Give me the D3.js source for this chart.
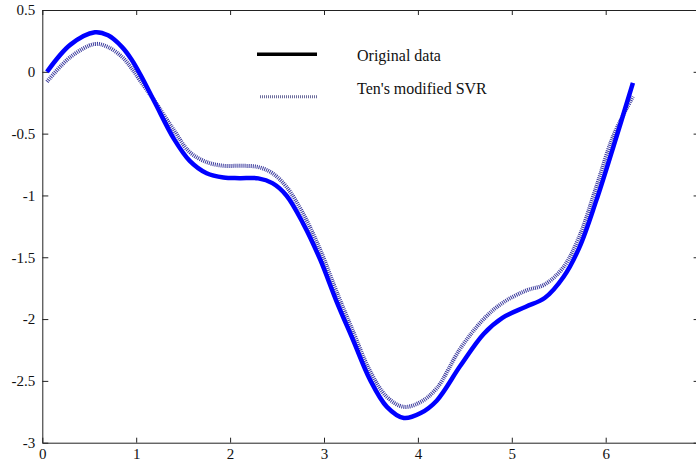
<!DOCTYPE html>
<html>
<head>
<meta charset="utf-8">
<script src="https://cdn.jsdelivr.net/npm/d3@7"></script>
<style>
  html, body { margin: 0; padding: 0; background: #fff; }
  svg text { font-family: "Liberation Serif", "Times New Roman", "DejaVu Serif", serif; }
</style>
</head>
<body>
<div id="chart"></div>
<script>
// sample positions along x
const xs = [0.05, 0.3, 0.56, 0.7, 0.85, 0.95, 1.05, 1.2, 1.4, 1.57, 1.75, 1.93, 2.1, 2.3, 2.45, 2.6, 2.78, 2.96,
	3.13, 3.31, 3.49, 3.67, 3.85, 4.03, 4.2, 4.45, 4.7, 4.9, 5.15, 5.35, 5.55, 5.72, 5.9, 6.08, 6.29];

// original data
const original = [0.0, 0.22, 0.32, 0.295, 0.2, 0.1, -0.03, -0.25, -0.54, -0.72, -0.82, -0.855, -0.86, -0.862,
	-0.9, -1.0, -1.23, -1.52, -1.85, -2.17, -2.49, -2.71, -2.8, -2.76, -2.66, -2.38, -2.12, -1.99, -1.9, -1.83,
	-1.66, -1.42, -1.04, -0.61, -0.09];

// Ten's modified SVR
const svr = [-0.08, 0.12, 0.225, 0.2, 0.12, 0.03, -0.08, -0.24, -0.47, -0.65, -0.73, -0.76, -0.76, -0.77,
	-0.82, -0.93, -1.15, -1.44, -1.77, -2.1, -2.42, -2.63, -2.71, -2.67, -2.56, -2.24, -2.0, -1.87, -1.77, -1.72,
	-1.58, -1.33, -0.93, -0.52, -0.2];

const xTicks = [0, 1, 2, 3, 4, 5, 6, 7];
const yTicks = [0.5, 0, -0.5, -1, -1.5, -2, -2.5, -3];
const yTickLabels = ["0.5", "0", "-0.5", "-1", "-1.5", "-2", "-2.5", "-3"];

const width = 696, height = 467;
const margin = { left: 42.3, top: 10, bottom: 442.7 };
const serif = "'Liberation Serif', 'Times New Roman', serif";

const svg = d3.select("#chart")
	.append("svg")
	.attr("width", width)
	.attr("height", height);

svg.append("rect").attr("width", width).attr("height", height).attr("fill", "#fff");

// 0..6 spans 42.3..605.7 in the picture, so 7 falls just past the right edge
const x = d3.scaleLinear().domain([0, 7]).range([margin.left, margin.left + 7 * 93.9]);
const y = d3.scaleLinear().domain([-3, 0.5]).range([margin.bottom, margin.top]);

const rightEdge = x(7);

// axes, ticks pointing inward like the matlab box
const axisStyle = g => {
	g.attr("font-family", serif);
	g.select(".domain").attr("stroke", "#222").attr("stroke-width", 1);
	g.selectAll(".tick line").attr("stroke", "#222");
	g.selectAll("text").attr("font-size", 15).attr("fill", "#111");
};

svg.append("g")
	.attr("transform", `translate(0,${margin.bottom})`)
	.call(d3.axisBottom(x).tickValues(xTicks).tickSizeInner(-5).tickSizeOuter(0).tickPadding(6)
		.tickFormat(d3.format("d")))
	.call(axisStyle);

svg.append("g")
	.attr("transform", `translate(${margin.left},0)`)
	.call(d3.axisLeft(y).tickValues(yTicks).tickSizeInner(-6).tickSizeOuter(0).tickPadding(7)
		.tickFormat((d, i) => yTickLabels[i]))
	.call(axisStyle);

svg.append("g")
	.attr("transform", `translate(0,${margin.top})`)
	.call(d3.axisTop(x).tickValues(xTicks).tickSizeInner(-5).tickSizeOuter(0).tickFormat(""))
	.call(axisStyle);

svg.append("g")
	.attr("transform", `translate(${rightEdge},0)`)
	.call(d3.axisRight(y).tickValues(yTicks).tickSizeInner(-6).tickSizeOuter(0).tickFormat(""))
	.call(axisStyle);

const line = d3.line()
	.x(d => x(d[0]))
	.y(d => y(d[1]))
	.curve(d3.curveCatmullRom.alpha(0.5));

// modified SVR (hatched look)
svg.append("path")
	.datum(xs.map((v, i) => [v, svr[i]]))
	.attr("fill", "none")
	.attr("stroke", "#3b3b9e")
	.attr("stroke-width", 4)
	.attr("stroke-dasharray", "1,1")
	.attr("d", line);

// original data
svg.append("path")
	.datum(xs.map((v, i) => [v, original[i]]))
	.attr("fill", "none")
	.attr("stroke", "#0000ff")
	.attr("stroke-width", 4.5)
	.attr("stroke-linejoin", "round")
	.attr("d", line);

// legend
const legend = svg.append("g").attr("font-family", serif);
legend.append("line")
	.attr("x1", 257).attr("x2", 317).attr("y1", 54.3).attr("y2", 54.3)
	.attr("stroke", "#000").attr("stroke-width", 3.5);
legend.append("line")
	.attr("x1", 260).attr("x2", 318).attr("y1", 96.7).attr("y2", 96.7)
	.attr("stroke", "#6a6a9a").attr("stroke-width", 3).attr("stroke-dasharray", "1,1");
legend.append("text")
	.attr("x", 357).attr("y", 60.5).attr("font-size", 16).attr("fill", "#111")
	.text("Original data");
legend.append("text")
	.attr("x", 357).attr("y", 94).attr("font-size", 16).attr("fill", "#111")
	.text("Ten's modified SVR");
</script>
</body>
</html>
